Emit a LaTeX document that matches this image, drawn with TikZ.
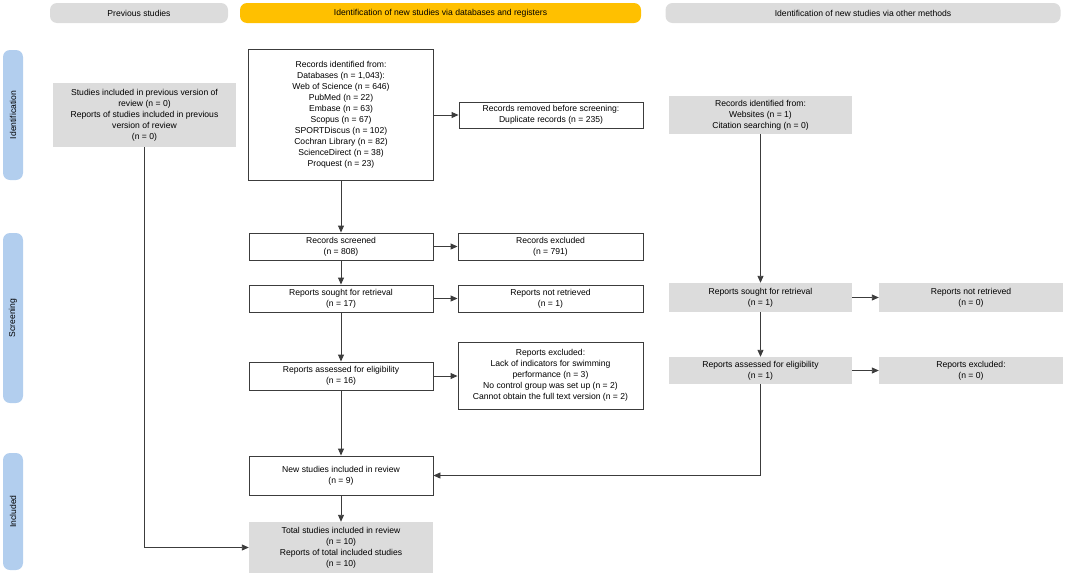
\documentclass[tikz,border=0pt]{standalone}
\usepackage{fontspec}
\setmainfont{Liberation Sans}
\usetikzlibrary{arrows.meta}
\definecolor{lgray}{RGB}{220,220,220}
\definecolor{hyellow}{RGB}{255,192,0}
\definecolor{sblue}{RGB}{178,206,238}
\definecolor{lcol}{RGB}{60,60,60}
\begin{document}
\begin{tikzpicture}[x=1pt,y=-1pt,
  every node/.style={font=\fontsize{8.6}{11}\selectfont, align=center, inner sep=0pt},
  wbox/.style={draw=lcol, line width=0.9pt, fill=white},
  gbox/.style={fill=lgray},
  hdr/.style={rounded corners=7pt, minimum height=20pt},
  side/.style={fill=sblue, rounded corners=7pt, minimum width=20pt},
  arr/.style={draw=lcol, line width=0.9pt, -{Triangle[length=7pt,width=6pt]}},
  ln/.style={draw=lcol, line width=0.9pt}]
\useasboundingbox (0,0) rectangle (1065,576);
% headers
\node[hdr, fill=lgray, minimum width=178pt] (h1) at (139,13) {Previous studies};
\node[hdr, fill=hyellow, minimum width=401pt] (h2) at (440.5,13) {Identification of new studies via databases and registers};
\node[hdr, fill=lgray, minimum width=395pt] (h3) at (863,13) {Identification of new studies via other methods};
% side bars
\node[side, minimum height=130pt] (s1) at (13,115) {\rotatebox{90}{Identification}};
\node[side, minimum height=170pt] (s2) at (13,318) {\rotatebox{90}{Screening}};
\node[side, minimum height=117pt] (s3) at (13,511.5) {\rotatebox{90}{Included}};
% previous
\node[gbox, minimum width=183pt, minimum height=64pt] (prev) at (144.5,115) {Studies included in previous version of\\review (n = 0)\\Reports of studies included in previous\\version of review\\(n = 0)};
% databases column
\node[wbox, minimum width=185pt, minimum height=131pt] (recid) at (341,114.5) {Records identified from:\\Databases (n = 1,043):\\Web of Science (n = 646)\\PubMed (n = 22)\\Embase (n = 63)\\Scopus (n = 67)\\SPORTDiscus (n = 102)\\Cochran Library (n = 82)\\ScienceDirect (n = 38)\\Proquest (n = 23)};
\node[wbox, minimum width=184pt, minimum height=26pt] (removed) at (551,115) {Records removed before screening:\\Duplicate records (n = 235)};
\node[wbox, minimum width=184pt, minimum height=27pt] (screened) at (341,246.5) {Records screened\\(n = 808)};
\node[wbox, minimum width=185pt, minimum height=27pt] (excluded) at (550.5,246.5) {Records excluded\\(n = 791)};
\node[wbox, minimum width=184pt, minimum height=27pt] (sought) at (341,298.5) {Reports sought for retrieval\\(n = 17)};
\node[wbox, minimum width=185pt, minimum height=27pt] (notret) at (550.5,298.5) {Reports not retrieved\\(n = 1)};
\node[wbox, minimum width=184pt, minimum height=28pt] (assessed) at (341,376) {Reports assessed for eligibility\\(n = 16)};
\node[wbox, minimum width=185pt, minimum height=67pt] (repexcl) at (550.5,375.5) {Reports excluded:\\Lack of indicators for swimming\\performance (n = 3)\\No control group was set up (n = 2)\\Cannot obtain the full text version (n = 2)};
\node[wbox, minimum width=184pt, minimum height=39pt] (newst) at (341,475.5) {New studies included in review\\(n = 9)};
\node[gbox, minimum width=184pt, minimum height=51pt] (total) at (341,547.5) {Total studies included in review\\(n = 10)\\Reports of total included studies\\(n = 10)};
% other methods column
\node[gbox, minimum width=183pt, minimum height=38pt] (othid) at (760.5,115) {Records identified from:\\Websites (n = 1)\\Citation searching (n = 0)};
\node[gbox, minimum width=183pt, minimum height=29pt] (osought) at (760.5,297.5) {Reports sought for retrieval\\(n = 1)};
\node[gbox, minimum width=184pt, minimum height=29pt] (onotret) at (971,297.5) {Reports not retrieved\\(n = 0)};
\node[gbox, minimum width=183pt, minimum height=27pt] (oassessed) at (760.5,370.5) {Reports assessed for eligibility\\(n = 1)};
\node[gbox, minimum width=184pt, minimum height=27pt] (oexcl) at (971,370.5) {Reports excluded:\\(n = 0)};
% connectors
\draw[arr] (recid.east |- removed.west) -- (removed.west);
\draw[arr] (recid.south) -- (screened.north);
\draw[arr] (screened.east) -- (excluded.west);
\draw[arr] (screened.south) -- (sought.north);
\draw[arr] (sought.east) -- (notret.west);
\draw[arr] (sought.south) -- (assessed.north);
\draw[arr] (assessed.east) -- (repexcl.west |- assessed.east);
\draw[arr] (assessed.south) -- (newst.north);
\draw[arr] (newst.south) -- (total.north);
\draw[arr] (othid.south) -- (osought.north);
\draw[arr] (osought.east) -- (onotret.west);
\draw[arr] (osought.south) -- (oassessed.north);
\draw[arr] (oassessed.east) -- (oexcl.west);
\draw[arr] (oassessed.south) |- (newst.east);
\draw[arr] (prev.south) |- (total.west);
\end{tikzpicture}
\end{document}
